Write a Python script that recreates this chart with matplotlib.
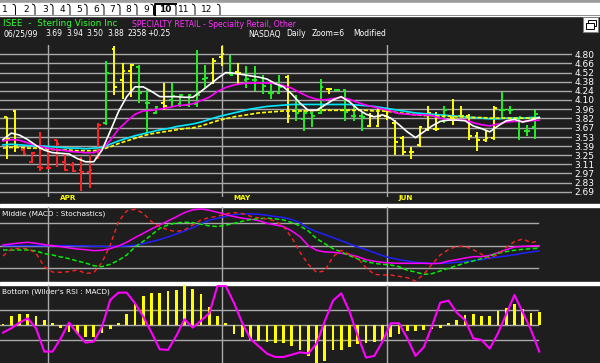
import numpy as np
import matplotlib
matplotlib.use("Agg")
import matplotlib.pyplot as plt
from matplotlib.patches import Rectangle

# ---------------- data ----------------
bar_open = [3.83, 3.93, 3.33, 3.15, 3.07, 3.06, 3.48, 3.15, 3.10, 3.02,
            3.00, 3.22, 3.74, 4.88, 4.40, 4.55, 4.60, 4.05, 3.90, 4.05,
            4.10, 4.03, 4.02, 4.03, 4.42, 4.52, 4.76, 4.52, 4.53, 4.40,
            4.41, 4.36, 4.20, 4.20, 4.45, 3.93, 3.80, 3.90, 3.90, 4.27,
            4.25, 4.25, 3.85, 3.85, 3.70, 3.70, 3.85, 3.75, 3.52, 3.30,
            3.40, 3.65, 3.66, 3.78, 3.82, 3.85, 3.85, 3.55, 3.49, 3.51,
            3.94, 3.94, 3.82, 3.63, 3.69]
bar_high = [3.84, 3.94, 3.37, 3.30, 3.61, 3.33, 3.48, 3.28, 3.15, 3.23,
            3.25, 3.74, 4.69, 4.93, 4.67, 4.65, 4.64, 4.25, 4.01, 4.36,
            4.36, 4.19, 4.19, 4.87, 4.64, 4.74, 4.93, 4.79, 4.67, 4.62,
            4.62, 4.48, 4.36, 4.48, 4.48, 4.18, 3.94, 3.92, 4.42, 4.28,
            4.26, 4.26, 4.02, 3.92, 3.90, 3.97, 3.97, 3.79, 3.55, 3.38,
            3.70, 4.00, 3.92, 4.00, 4.12, 4.00, 3.89, 3.61, 3.64, 4.00,
            4.22, 4.00, 3.83, 3.71, 3.94]
bar_low = [3.19, 3.30, 3.25, 3.13, 3.01, 3.04, 3.07, 3.01, 3.00, 2.70,
           2.74, 3.20, 3.71, 4.18, 4.12, 4.15, 4.05, 3.59, 3.89, 3.94,
           3.99, 3.99, 3.99, 3.99, 4.28, 4.35, 4.62, 4.48, 4.35, 4.28,
           4.24, 4.19, 4.12, 4.19, 3.75, 3.77, 3.63, 3.68, 3.89, 4.19,
           4.24, 3.77, 3.77, 3.63, 3.68, 3.68, 3.79, 3.25, 3.25, 3.19,
           3.38, 3.63, 3.63, 3.75, 3.71, 3.83, 3.49, 3.32, 3.46, 3.49,
           3.82, 3.88, 3.49, 3.55, 3.50]
bar_close = [3.50, 3.40, 3.27, 3.29, 3.05, 3.05, 3.43, 3.02, 3.01, 3.00,
             3.02, 3.72, 4.51, 4.30, 4.55, 4.63, 4.20, 4.05, 3.99, 4.00,
             4.16, 4.17, 4.17, 4.18, 4.43, 4.69, 4.80, 4.49, 4.52, 4.42,
             4.40, 4.32, 4.20, 4.30, 3.85, 3.90, 3.90, 3.85, 4.30, 4.27,
             4.25, 3.92, 3.85, 3.84, 3.85, 3.85, 3.83, 3.46, 3.30, 3.30,
             3.68, 3.90, 3.66, 3.95, 3.80, 3.86, 3.55, 3.48, 3.52, 3.97,
             3.95, 3.94, 3.83, 3.63, 3.88]
bar_color = list("YY" "RRRRRRRRRR" "G" "YYY" "GGG" "Y" "GGGGG" "YY" "G" "Y"
                 "GGGGG" "Y" "GGGG" "Y" "GGGG" "YYYYYYYYY" "G" "YYYYYY" "GGGGG")

ma_white = [3.49, 3.59, 3.56, 3.49, 3.40, 3.33, 3.29, 3.28, 3.27, 3.20,
            3.15, 3.15, 3.33, 3.62, 3.92, 4.15, 4.30, 4.30, 4.23, 4.15,
            4.15, 4.15, 4.14, 4.14, 4.23, 4.33, 4.43, 4.52, 4.51, 4.49,
            4.47, 4.45, 4.42, 4.35, 4.30, 4.19, 4.05, 3.94, 3.94, 4.02,
            4.10, 4.15, 4.07, 3.96, 3.88, 3.84, 3.87, 3.82, 3.72, 3.61,
            3.52, 3.61, 3.70, 3.77, 3.79, 3.79, 3.78, 3.70, 3.66, 3.61,
            3.70, 3.78, 3.80, 3.76, 3.79, 3.83]
ma_magenta = [3.47, 3.49, 3.48, 3.44, 3.40, 3.37, 3.34, 3.33, 3.31, 3.30,
              3.29, 3.29, 3.34, 3.48, 3.65, 3.77, 3.88, 3.93, 3.94, 3.96,
              3.98, 4.01, 4.02, 4.04, 4.09, 4.14, 4.23, 4.29, 4.33, 4.35,
              4.36, 4.36, 4.36, 4.35, 4.32, 4.28, 4.21, 4.15, 4.11, 4.10,
              4.12, 4.14, 4.11, 4.06, 4.02, 3.99, 3.96, 3.93, 3.89, 3.88,
              3.87, 3.87, 3.86, 3.82, 3.79, 3.79, 3.79, 3.75, 3.72, 3.70,
              3.73, 3.76, 3.77, 3.77, 3.78, 3.79]
ma_cyan = [3.41, 3.42, 3.41, 3.40, 3.39, 3.39, 3.38, 3.37, 3.36, 3.36,
           3.35, 3.36, 3.37, 3.42, 3.47, 3.51, 3.55, 3.58, 3.61, 3.64,
           3.66, 3.69, 3.71, 3.73, 3.76, 3.80, 3.84, 3.87, 3.90, 3.93,
           3.96, 3.98, 4.00, 4.01, 4.02, 4.03, 4.03, 4.03, 4.03, 4.03,
           4.03, 4.03, 4.03, 4.02, 4.01, 4.00, 3.98, 3.96, 3.94, 3.92,
           3.90, 3.89, 3.88, 3.87, 3.86, 3.85, 3.84, 3.83, 3.82, 3.81,
           3.81, 3.82, 3.82, 3.82, 3.83, 3.83]
ma_yellow = [3.36, 3.37, 3.37, 3.36, 3.36, 3.35, 3.34, 3.33, 3.33, 3.32,
             3.32, 3.32, 3.34, 3.38, 3.43, 3.47, 3.51, 3.55, 3.58, 3.60,
             3.62, 3.64, 3.66, 3.67, 3.70, 3.74, 3.78, 3.81, 3.84, 3.86,
             3.88, 3.90, 3.91, 3.92, 3.93, 3.93, 3.93, 3.93, 3.94, 3.94,
             3.94, 3.94, 3.94, 3.94, 3.94, 3.93, 3.93, 3.92, 3.90, 3.89,
             3.87, 3.86, 3.86, 3.85, 3.85, 3.84, 3.84, 3.83, 3.83, 3.82,
             3.82, 3.82, 3.82, 3.82, 3.82, 3.82]

price_ticks = [4.80, 4.66, 4.52, 4.38, 4.24, 4.10, 3.96, 3.82, 3.67, 3.53,
               3.39, 3.25, 3.11, 2.97, 2.83, 2.69]
month_labels = ["APR", "MAY", "JUN"]
month_first_bar = [5, 26, 46]

# middle panel (panel scale 0-100)
stoch_fast = [36.1, 45.5, 46.4, 46.0, 39.7, 21.8, 14.6, 14.2, 15.1, 17.3,
              12.8, 13.7, 27.6, 50.9, 82.3, 96.6, 98.8, 93.5, 82.3, 75.5,
              71.1, 68.8, 71.1, 77.8, 84.5, 87.6, 89.4, 92.6, 94.4, 93.0,
              89.4, 87.2, 85.8, 83.2, 75.5, 60.8, 41.0, 24.9, 14.2, 16.0,
              35.2, 43.7, 38.4, 33.0, 20.4, 11.5, 10.6, 10.6, 8.8, 7.0,
              2.5, 11.5, 24.9, 37.5, 44.6, 49.1, 49.1, 44.6, 38.4, 33.0,
              38.4, 47.8, 55.4, 59.0, 54.0, 56.3]
stoch_slow = [44.2, 44.2, 44.2, 44.2, 42.9, 39.3, 37.5, 34.8, 32.6, 29.4,
              26.7, 23.1, 21.8, 24.9, 30.3, 37.5, 48.2, 55.8, 64.4, 73.3,
              77.8, 80.5, 81.4, 80.9, 78.7, 76.5, 75.6, 77.4, 80.0, 82.7,
              85.0, 86.3, 86.8, 85.9, 84.5, 80.9, 76.5, 69.7, 59.4, 52.7,
              46.0, 41.5, 36.6, 32.1, 28.5, 26.3, 24.9, 24.0, 21.8, 16.9,
              14.6, 11.5, 12.4, 16.0, 19.6, 23.1, 26.7, 29.4, 32.6, 36.1,
              39.7, 42.0, 43.8, 45.1, 46.0, 46.4]
macd_line = [50.9, 52.3, 53.6, 54.5, 53.2, 51.4, 50.0, 48.7, 46.9, 45.5,
             44.6, 43.3, 43.8, 46.0, 49.6, 54.5, 60.8, 66.6, 72.4, 77.8,
             83.2, 88.6, 94.4, 98.0, 99.3, 97.5, 94.8, 91.7, 89.0, 86.8,
             85.4, 83.6, 80.0, 77.8, 75.6, 69.7, 62.1, 50.0, 43.8, 41.5,
             41.1, 39.7, 37.9, 35.2, 31.2, 29.0, 27.6, 26.7, 26.3, 26.3,
             26.3, 26.3, 25.8, 26.3, 29.4, 31.2, 33.4, 35.2, 35.2, 37.0,
             40.6, 44.6, 48.2, 49.1, 49.6, 50.0]
macd_signal = [50.0, 50.0, 50.0, 50.0, 50.0, 50.0, 50.0, 50.0, 50.0, 49.6,
               49.6, 49.1, 49.1, 49.1, 49.1, 49.6, 50.5, 52.7, 55.4, 58.1,
               61.7, 65.7, 69.7, 74.2, 79.6, 84.1, 86.8, 89.4, 91.7, 92.6,
               92.6, 92.1, 90.8, 89.0, 87.7, 85.0, 80.5, 73.3, 68.8, 64.8,
               60.8, 56.7, 52.3, 48.2, 44.6, 40.6, 36.6, 33.4, 31.2, 29.4,
               27.6, 26.7, 26.3, 26.3, 26.7, 27.6, 28.5, 29.9, 31.2, 33.4,
               34.8, 36.1, 37.9, 39.7, 41.5, 42.9]

# bottom panel
rsi = [39.8, 45.6, 53.2, 58.9, 45.6, 14.5, 14.5, 32.3, 53.2, 39.0,
       26.5, 27.9, 47.8, 83.4, 93.1, 93.1, 78.9, 61.2, 39.8, 17.6,
       16.8, 35.4, 57.6, 46.5, 55.8, 65.6, 102.0, 102.0, 79.3, 52.7,
       31.3, 21.6, 11.8, 7.3, 7.3, 10.4, 13.6, 12.0, 25.0, 55.0,
       82.5, 92.2, 67.8, 35.4, 6.5, 8.8, 27.9, 52.3, 52.3, 32.3,
       8.8, 20.3, 48.7, 79.8, 82.5, 66.5, 56.7, 32.3, 30.1, 18.5,
       39.0, 64.7, 90.0, 66.9, 43.4, 14.5]
macd_hist = [0.003, 0.018, 0.022, 0.022, 0.019, 0.010, 0.005, -0.005, -0.013, -0.017,
             -0.023, -0.023, -0.015, -0.007, 0.005, 0.023, 0.043, 0.058, 0.065, 0.065,
             0.069, 0.071, 0.080, 0.073, 0.063, 0.037, 0.018, 0.005, -0.017, -0.024,
             -0.030, -0.032, -0.033, -0.035, -0.036, -0.042, -0.050, -0.062, -0.075, -0.072,
             -0.050, -0.050, -0.043, -0.037, -0.035, -0.033, -0.030, -0.023, -0.017, -0.011,
             -0.011, -0.010, -0.007, -0.005, 0.005, 0.010, 0.020, 0.022, 0.018, 0.018,
             0.029, 0.035, 0.042, 0.033, 0.025, 0.027]

# ---------------- styling / layout ----------------
BG = "#1e1e1e"
GRID = "#a9a9a9"
W, H = 600, 363
PX0, PXS = 3.0, 8.25          # pixel position of first point, pixels per bar
COLS = {"R": "#ff2424", "Y": "#ffff00", "G": "#22ee22"}
FONT = "DejaVu Sans"

fig = plt.figure(figsize=(W / 100, H / 100), dpi=100, facecolor=BG)


def px_axes(left, top, right, bottom, z=1):
    ax = fig.add_axes([left / W, 1 - bottom / H, (right - left) / W, (bottom - top) / H])
    ax.set_zorder(z)
    ax.set_facecolor("none")
    ax.set_xlim((0 - PX0) / PXS, (right - PX0) / PXS)
    return ax


# decoration layer (pixel coordinates)
deco = fig.add_axes([0, 0, 1, 1])
deco.set_zorder(0)
deco.set_xlim(0, W)
deco.set_ylim(H, 0)
deco.axis("off")
deco.add_patch(Rectangle((0, 0), W, 3, color="#9c9c9c"))
deco.add_patch(Rectangle((0, 3), W, 12.5, color="white"))
deco.plot([0, W], [15.3, 15.3], color="#7a7a7a", lw=0.6)

tab_names = ["1", "2", "3", "4", "5", "6", "7", "8", "9", "10", "11", "12"]
tab_cx = [5, 26, 45, 62, 79, 96, 112, 128, 146, 165, 184, 207]
tab_sep = [15.5, 35, 53, 70, 87, 104, 120, 137, 153.5, 176, 195, 220]
for name, cx, sx in zip(tab_names, tab_cx, tab_sep):
    deco.text(cx, 9.3, name, ha="center", va="center", fontsize=6.5,
              family=FONT, color="black",
              fontweight="bold" if name == "10" else "normal")
    deco.plot([sx - 2.5, sx - 0.7, sx, sx], [4.2, 5.0, 6.8, 14.5], color="black", lw=0.7)
deco.plot([155, 155, 176], [14.5, 3.6, 3.6], color="black", lw=1.4)

# window icon top right
deco.add_patch(Rectangle((583, 17), 15, 15, facecolor="white", edgecolor="#808080", lw=0.8))
deco.add_patch(Rectangle((587.5, 20), 8, 6, facecolor="white", edgecolor="black", lw=0.7))
deco.add_patch(Rectangle((585.5, 23), 8, 6, facecolor="white", edgecolor="black", lw=0.7))

# header
deco.text(3, 24, "ISEE  -  Sterling Vision Inc", color="#33ff33", fontsize=6.4,
          family=FONT, va="center")
deco.text(132, 24.5, "SPECIALTY RETAIL - Specialty Retail, Other", color="#ff33ff",
          fontsize=5.55, family=FONT, va="center")
for s, x in zip(["06/25/99", "3.69", "3.94", "3.50", "3.88", "2358", "+0.25"],
                [3, 45, 66, 86, 107, 127, 147]):
    deco.text(x, 34, s, color="white", fontsize=5.5, family=FONT, va="center")
for s, x in zip(["NASDAQ", "Daily", "Zoom=6", "Modified"], [248, 286, 312, 353]):
    deco.text(x, 34, s, color="white", fontsize=5.5, family=FONT, va="center")

# separators between panels
deco.add_patch(Rectangle((0, 204), W, 3.2, color="white"))
deco.add_patch(Rectangle((0, 282), W, 2.6, color="white"))
deco.text(2, 213.5, "Middle (MACD : Stochastics)", color="white", fontsize=5.35,
          family=FONT, va="center", zorder=5)
deco.text(2, 291.5, "Bottom (Wilder's RSI : MACD)", color="white", fontsize=5.3,
          family=FONT, va="center", zorder=5)

# ---------------- price panel ----------------
ax_p = px_axes(0, 45, 572, 197)
ax_p.set_ylim(2.609, 4.943)
for sp in ax_p.spines.values():
    sp.set_visible(False)
ax_p.set_xticks([])
ax_p.set_yticks(price_ticks)
ax_p.set_yticklabels(["%.2f" % v for v in price_ticks])
ax_p.yaxis.tick_right()
ax_p.tick_params(axis="y", length=0, pad=1.5, labelsize=6.5, labelcolor="white")
for lab in ax_p.get_yticklabels():
    lab.set_family(FONT)
ax_p.set_axisbelow(True)
ax_p.yaxis.grid(True, color=GRID, lw=1.0)
for m in month_first_bar:
    ax_p.axvline(m + 0.5, color=GRID, lw=1.0, zorder=0.5)
for m, lab in zip(month_first_bar, month_labels):
    ax_p.text(m + 0.5 + 1.4, -0.005, lab, transform=ax_p.get_xaxis_transform(),
              color="#ffff00", fontsize=5.2, fontweight="bold", family=FONT,
              ha="left", va="center", clip_on=False)

xb = np.arange(len(bar_open)) + 0.5
cols = [COLS[c] for c in bar_color]
ax_p.vlines(xb, bar_low, bar_high, colors=cols, lw=1.4, zorder=2)
ax_p.hlines(bar_open, xb - 0.33, xb, colors=cols, lw=1.4, zorder=2)
ax_p.hlines(bar_close, xb, xb + 0.33, colors=cols, lw=1.4, zorder=2)

xl = np.arange(len(ma_white))
ax_p.plot(xl, ma_cyan, color="#00e8ff", lw=1.2, zorder=3)
ax_p.plot(xl, ma_yellow, color="#ffff00", lw=1.2, ls=(0, (2.4, 1.2)), zorder=3)
ax_p.plot(xl, ma_magenta, color="#ff00ff", lw=1.2, zorder=3)
ax_p.plot(xl, ma_white, color="white", lw=1.2, zorder=3)

# ---------------- middle panel ----------------
ax_m = px_axes(0, 207.2, 542, 282)
ax_m.set_ylim(1.2, 101.6)
ax_m.axis("off")
for g in [20, 50, 80]:
    ax_m.axhline(g, xmax=538 / 542, color=GRID, lw=1.0, zorder=0.5)
for m in month_first_bar:
    ax_m.axvline(m + 0.5, color=GRID, lw=1.0, zorder=0.5)
ax_m.plot(xl, macd_signal, color="#2020ff", lw=1.1, zorder=2)
ax_m.plot(xl, macd_line, color="#ff00ff", lw=1.1, zorder=2)
ax_m.plot(xl, stoch_slow, color="#00ee00", lw=1.1, ls=(0, (3.0, 1.6)), zorder=3)
ax_m.plot(xl, stoch_fast, color="#ff2020", lw=1.0, ls=(0, (3.0, 2.4)), zorder=3)

# ---------------- bottom panel ----------------
ax_b = px_axes(0, 285, 542, 363)
ax_b.set_ylim(-0.67, 103.3)
ax_b.axis("off")
for g in [30, 50, 70]:
    ax_b.axhline(g, xmax=538 / 542, color=GRID, lw=1.0, zorder=0.5)
for m in month_first_bar:
    ax_b.axvline(m + 0.5, color=GRID, lw=1.0, zorder=0.5)

ax_h = ax_b.twinx()
ax_h.set_ylim(-0.076, 0.080)
ax_h.axis("off")
ax_h.bar(xl, macd_hist, width=0.36, color="#ffff00", zorder=2)

ax_r = ax_b.twinx()
ax_r.set_ylim(-0.67, 103.3)
ax_r.axis("off")
ax_r.plot(xl, rsi, color="#ff00ff", lw=1.5, zorder=3)

fig.savefig("out.png", dpi=100, facecolor=BG)
